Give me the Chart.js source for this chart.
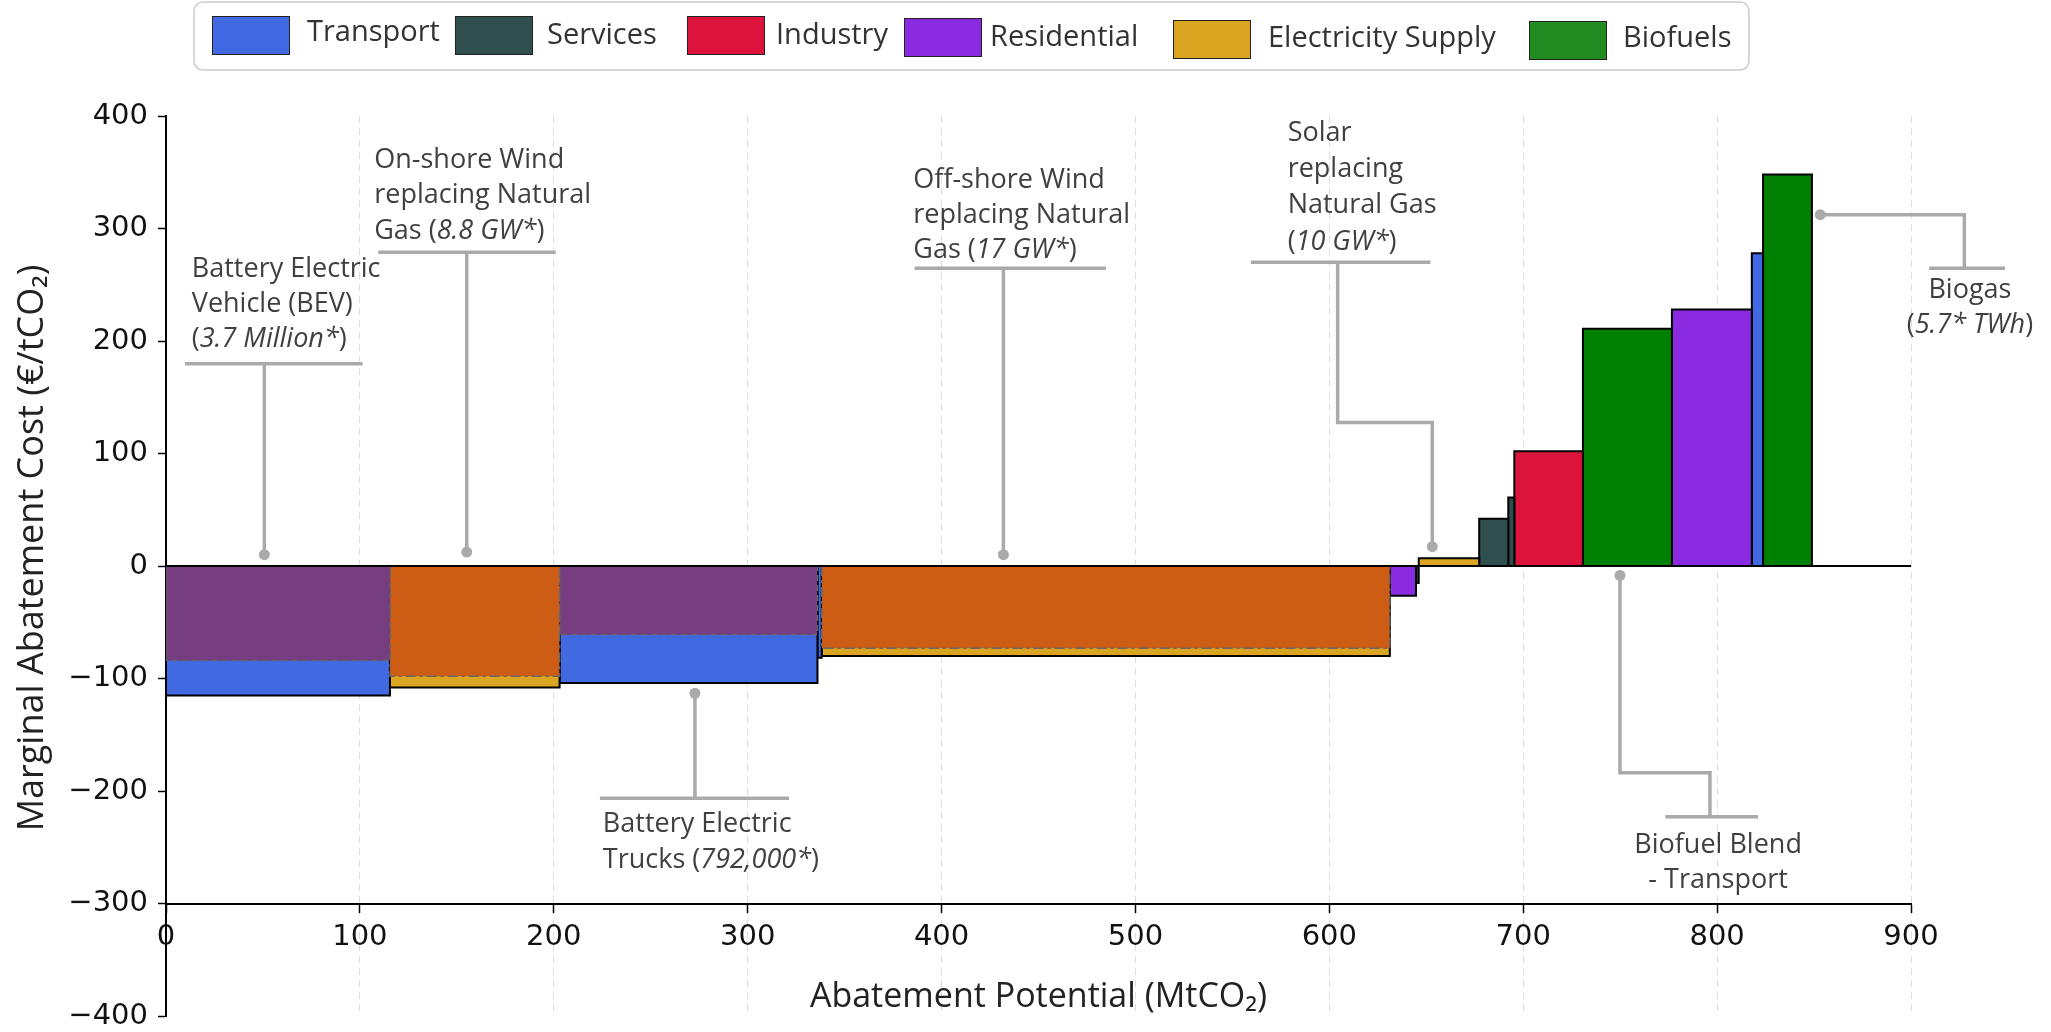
<!DOCTYPE html>
<html>
<head>
<meta charset="utf-8">
<script src="https://cdn.jsdelivr.net/npm/chart.js@4.4.1/dist/chart.umd.min.js"></script>
<style>
  html, body { margin: 0; padding: 0; background: #fff; }
  canvas { display: block; }
</style>
</head>
<body>
<canvas id="macc" width="2051" height="1032"></canvas>
<script>
// sectors shown in the legend
const sectors = ['Transport', 'Services', 'Industry', 'Residential', 'Electricity Supply', 'Biofuels'];

// one entry per measure, left to right along the curve
const barSectors = ['Transport', 'Electricity Supply', 'Transport', 'Transport', 'Electricity Supply',
  'Residential', 'Services', 'Electricity Supply', 'Services', 'Services', 'Industry',
  'Biofuels', 'Residential', 'Transport', 'Biofuels'];
const barPotentials = [115.5, 87.5, 133, 2.2, 293, 13.5, 1.4, 31.2, 15, 3.1, 35.4, 45.9, 41.2, 5.8, 25.2];
const barCosts = [-115, -108, -104, -81.5, -80, -26.5, -15, 6.8, 42, 61, 102, 211, 228, 278, 348];
// inner (hatched) part of some negative-cost bars
const overlayCosts = [-84, -98, -61, null, -73, null, null, null, null, null, null, null, null, null, null];

const xTickValues = [0, 100, 200, 300, 400, 500, 600, 700, 800, 900];
const yTickValues = [-400, -300, -200, -100, 0, 100, 200, 300, 400];

const legendColors = {
  'Transport': '#4169E1', 'Services': '#2F4F4F', 'Industry': '#DC143C',
  'Residential': '#8A2BE2', 'Electricity Supply': '#DAA520', 'Biofuels': '#228B22'
};
const barColors = Object.assign({}, legendColors, { 'Biofuels': '#008000' });
const overlayStyle = {
  'Transport': { color: '#763D80', dash: [6, 4] },
  'Electricity Supply': { color: '#CD5D14', dash: [10, 4, 3, 4] }
};

const FONT = '"Open Sans", "Noto Sans", sans-serif';

function rect(x0, x1, y) {
  return [{ x: x0, y: 0 }, { x: x0, y: y }, { x: x1, y: y }, { x: x1, y: 0 }];
}

const datasets = [];
let start = 0;
barPotentials.forEach((w, i) => {
  const end = start + w;
  datasets.push({
    data: rect(start, end, barCosts[i]),
    showLine: true, fill: 'origin',
    backgroundColor: barColors[barSectors[i]],
    borderColor: '#000', borderWidth: 2, borderJoinStyle: 'miter',
    pointRadius: 0, order: 2
  });
  if (overlayCosts[i] !== null) {
    const st = overlayStyle[barSectors[i]];
    datasets.push({
      data: rect(start, end, overlayCosts[i]),
      showLine: true, fill: 'origin',
      backgroundColor: st.color,
      borderColor: '#666', borderWidth: 1.5, borderDash: st.dash,
      pointRadius: 0, order: 1
    });
  }
  start = end;
});
datasets.push({
  data: [{ x: 0, y: 0 }, { x: 900, y: 0 }],
  showLine: true, fill: false, borderColor: '#000', borderWidth: 2,
  pointRadius: 0, order: 0
});

// callout notes: bar & path in data units, text baselines as pixel offsets from the bar
const notes = [
  { x: 13.3, align: 'left', bar: [9.8, 101.4, 179.8], path: [[50.7, 179.8], [50.7, 10.1]],
    offs: [-86.7, -51.7, -16.7],
    lines: [[['Battery Electric', 0]], [['Vehicle (BEV)', 0]], [['(', 0], ['3.7 Million*', 1], [')', 0]]] },
  { x: 107.4, align: 'left', bar: [109.5, 201.0, 278.8], path: [[155.1, 278.8], [155.1, 12.4]],
    offs: [-84.3, -49.3, -13],
    lines: [[['On-shore Wind', 0]], [['replacing Natural', 0]], [['Gas (', 0], ['8.8 GW*', 1], [')', 0]]] },
  { x: 385.4, align: 'left', bar: [386.1, 484.8, 264.6], path: [[431.9, 264.6], [431.9, 10.1]],
    offs: [-80, -45, -10],
    lines: [[['Off-shore Wind', 0]], [['replacing Natural', 0]], [['Gas (', 0], ['17 GW*', 1], [')', 0]]] },
  { x: 578.5, align: 'left', bar: [559.5, 652.1, 270.0],
    path: [[604.3, 270.0], [604.3, 127.6], [653.1, 127.6], [653.1, 17.2]],
    offs: [-121.3, -85.6, -49, -12.3],
    lines: [[['Solar', 0]], [['replacing', 0]], [['Natural Gas', 0]], [['(', 0], ['10 GW*', 1], [')', 0]]] },
  { x: 930.4, align: 'center', bar: [909.4, 948.5, 264.6],
    path: [[927.5, 264.6], [927.5, 312.3], [853.2, 312.3]],
    offs: [29.4, 64.4],
    lines: [[['Biogas', 0]], [['(', 0], ['5.7* TWh', 1], [')', 0]]] },
  { x: 225.3, align: 'left', bar: [223.8, 321.3, -206.5], path: [[272.8, -206.5], [272.8, -113.1]],
    offs: [34, 70],
    lines: [[['Battery Electric', 0]], [['Trucks (', 0], ['792,000*', 1], [')', 0]]] },
  { x: 800.5, align: 'center', bar: [773.3, 821.1, -222.8],
    path: [[796.3, -222.8], [796.3, -183.7], [749.9, -183.7], [749.9, -8.4]],
    offs: [36.6, 71.6],
    lines: [[['Biofuel Blend', 0]], [['- Transport', 0]]] }
];

const NOTE_SIZE = 27;

const calloutPlugin = {
  id: 'callouts',
  afterDraw(chart) {
    const ctx = chart.ctx, xs = chart.scales.x, ys = chart.scales.y;
    ctx.save();
    ctx.strokeStyle = '#aaaaaa';
    ctx.fillStyle = '#aaaaaa';
    ctx.lineWidth = 3.5;
    ctx.lineCap = 'butt';
    notes.forEach(n => {
      const by = ys.getPixelForValue(n.bar[2]);
      ctx.beginPath();
      ctx.moveTo(xs.getPixelForValue(n.bar[0]), by);
      ctx.lineTo(xs.getPixelForValue(n.bar[1]), by);
      ctx.stroke();
      ctx.beginPath();
      n.path.forEach((p, k) => {
        const px = xs.getPixelForValue(p[0]), py = ys.getPixelForValue(p[1]);
        if (k === 0) ctx.moveTo(px, py); else ctx.lineTo(px, py);
      });
      ctx.stroke();
      const end = n.path[n.path.length - 1];
      ctx.beginPath();
      ctx.arc(xs.getPixelForValue(end[0]), ys.getPixelForValue(end[1]), 5.5, 0, Math.PI * 2);
      ctx.fill();
    });
    ctx.fillStyle = '#404040';
    ctx.textBaseline = 'alphabetic';
    ctx.textAlign = 'left';
    notes.forEach(n => {
      const by = ys.getPixelForValue(n.bar[2]);
      const tx = xs.getPixelForValue(n.x);
      n.lines.forEach((segs, li) => {
        let total = 0;
        segs.forEach(s => { ctx.font = (s[1] ? 'italic ' : '') + NOTE_SIZE + 'px ' + FONT; total += ctx.measureText(s[0]).width; });
        let cx = n.align === 'center' ? tx - total / 2 : tx;
        segs.forEach(s => {
          ctx.font = (s[1] ? 'italic ' : '') + NOTE_SIZE + 'px ' + FONT;
          ctx.fillText(s[0], cx, by + n.offs[li]);
          cx += ctx.measureText(s[0]).width;
        });
      });
    });
    ctx.restore();
  }
};

// hand-placed legend, slightly staggered like the original
const legendSwatchX = [212, 455, 687, 904, 1173, 1529];
const legendTextX = [307, 547, 776, 990, 1268, 1623];
const legendSwatchTop = [16, 16, 16, 18, 20, 21];
const legendTextMid = [33, 36, 36, 38, 39, 39];

const legendPlugin = {
  id: 'boxLegend',
  afterDraw(chart) {
    const ctx = chart.ctx;
    ctx.save();
    ctx.strokeStyle = '#cccccc';
    ctx.lineWidth = 1.5;
    ctx.beginPath();
    ctx.roundRect(194, 2, 1555, 68, 9);
    ctx.stroke();
    ctx.font = '29px ' + FONT;
    ctx.textBaseline = 'middle';
    sectors.forEach((s, i) => {
      ctx.fillStyle = legendColors[s];
      ctx.fillRect(legendSwatchX[i], legendSwatchTop[i], 78, 39);
      ctx.strokeStyle = '#222';
      ctx.lineWidth = 1;
      ctx.strokeRect(legendSwatchX[i] + 0.5, legendSwatchTop[i] + 0.5, 77, 38);
      ctx.fillStyle = '#333';
      ctx.fillText(s, legendTextX[i], legendTextMid[i]);
    });
    ctx.restore();
  }
};

const tickFont = { family: '"DejaVu Sans", sans-serif', size: 29, lineHeight: 1.2 };

new Chart(document.getElementById('macc'), {
  type: 'scatter',
  data: { datasets: datasets },
  plugins: [calloutPlugin, legendPlugin],
  options: {
    responsive: false,
    animation: false,
    devicePixelRatio: 1,
    events: [],
    layout: { padding: { top: 116, left: 0, right: 140, bottom: 16 } },
    plugins: { legend: { display: false }, tooltip: { enabled: false } },
    elements: { line: { tension: 0 } },
    scales: {
      x: {
        type: 'linear', min: 0, max: 900,
        position: { y: -300 },
        afterBuildTicks: s => { s.ticks = xTickValues.map(v => ({ value: v })); },
        ticks: { font: tickFont, color: '#111', padding: 9, maxRotation: 0 },
        grid: { color: '#dddddd', lineWidth: 1, tickColor: '#000', tickLength: 8, tickWidth: 1.5 },
        border: { display: true, color: '#000', width: 2, dash: [7, 5] },
        title: { display: true, text: 'Abatement Potential (MtCO₂)', color: '#222',
          font: { family: FONT, size: 34, lineHeight: 1.2 }, padding: { top: 13, bottom: 0 } }
      },
      y: {
        type: 'linear', min: -400, max: 400,
        afterBuildTicks: s => { s.ticks = yTickValues.map(v => ({ value: v })); },
        afterFit: s => { s.width = 166; s.paddingTop = 0; s.paddingBottom = 0; },
        ticks: { font: { family: '"DejaVu Sans", sans-serif', size: 29, lineHeight: 1 }, color: '#111', padding: 10,
          callback: v => v < 0 ? '\u2212' + Math.abs(v) : String(v) },
        grid: { drawOnChartArea: false, tickColor: '#000', tickLength: 8, tickWidth: 1.5 },
        border: { display: true, color: '#000', width: 2 },
        title: { display: true, text: '\u2002\u2002Marginal Abatement Cost (€/tCO₂)', color: '#222',
          font: { family: FONT, size: 36, lineHeight: 1.2 }, padding: { top: 11, bottom: 0 } }
      }
    }
  }
});
</script>
</body>
</html>
